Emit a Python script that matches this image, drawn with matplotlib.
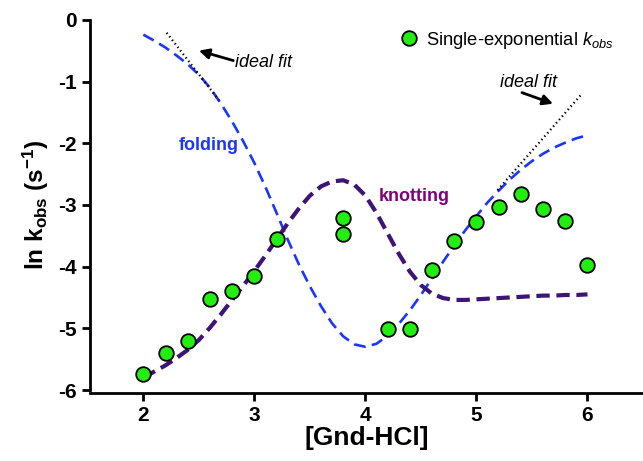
import matplotlib
matplotlib.use("Agg")
import matplotlib.pyplot as plt

plt.rcParams['font.family'] = ['Liberation Sans', 'DejaVu Sans']
plt.rcParams['mathtext.fontset'] = 'custom'
plt.rcParams['mathtext.rm'] = 'Liberation Sans'
plt.rcParams['mathtext.it'] = 'Liberation Sans:italic'
plt.rcParams['mathtext.bf'] = 'Liberation Sans:bold'
plt.rcParams['axes.unicode_minus'] = False

# measured data
gnd = [2.0, 2.2, 2.4, 2.6, 2.8, 3.0, 3.2, 3.8, 3.8, 4.2, 4.4, 4.6, 4.8, 5.0, 5.2, 5.4, 5.6, 5.8, 6.0]
ln_kobs = [-5.74, -5.40, -5.21, -4.53, -4.39, -4.15, -3.56, -3.21, -3.47, -5.01, -5.01,
           -4.06, -3.58, -3.28, -3.04, -2.83, -3.07, -3.26, -3.97]

# fitted curves
fit_x = [2.0, 2.1, 2.2, 2.3, 2.4, 2.5, 2.6, 2.7, 2.8, 2.9, 3.0, 3.1, 3.2, 3.3, 3.4, 3.5, 3.6, 3.7,
         3.8, 3.9, 4.0, 4.1, 4.2, 4.3, 4.4, 4.5, 4.6, 4.7, 4.8, 4.9, 5.0, 5.1, 5.2, 5.3, 5.4, 5.5,
         5.6, 5.7, 5.8, 5.9, 6.0]
folding = [-0.24, -0.34, -0.45, -0.58, -0.72, -0.89, -1.10, -1.36, -1.65, -1.97, -2.32, -2.71,
           -3.13, -3.56, -3.96, -4.32, -4.64, -4.92, -5.13, -5.26, -5.30, -5.25, -5.12, -4.93,
           -4.71, -4.46, -4.19, -3.92, -3.66, -3.41, -3.18, -2.96, -2.77, -2.59, -2.43, -2.29,
           -2.17, -2.07, -1.99, -1.92, -1.87]
knotting = [-5.80, -5.70, -5.60, -5.48, -5.35, -5.19, -4.99, -4.77, -4.54, -4.31, -4.07, -3.82,
            -3.56, -3.30, -3.06, -2.85, -2.70, -2.62, -2.60, -2.67, -2.85, -3.13, -3.46, -3.79,
            -4.08, -4.30, -4.44, -4.51, -4.54, -4.54, -4.53, -4.52, -4.51, -4.50, -4.49, -4.48,
            -4.47, -4.47, -4.46, -4.46, -4.45]

ideal_left_x = [2.21, 2.68]
ideal_left_y = [-0.21, -1.30]
ideal_right_x = [5.19, 5.94]
ideal_right_y = [-2.76, -1.22]

xticks = [2, 3, 4, 5, 6]
yticks = [0, -1, -2, -3, -4, -5, -6]

fig = plt.figure(figsize=(6.43, 4.61), dpi=100)
ax = fig.add_axes([0.14, 0.154, 0.86, 0.803])

ax.plot(fit_x, folding, color='#1a35ff', lw=1.9, dashes=(4.5, 2.4), zorder=2)
ax.plot(fit_x, knotting, color='#3d1478', lw=3.0, dashes=(3.2, 1.6), zorder=2)
ax.plot(ideal_left_x, ideal_left_y, color='black', lw=1.6, linestyle=(0, (0.6, 1.4)), zorder=3)
ax.plot(ideal_right_x, ideal_right_y, color='black', lw=1.6, linestyle=(0, (0.6, 1.4)), zorder=3)
ax.plot(gnd, ln_kobs, linestyle='none', marker='o', markersize=10.5, markerfacecolor='#22ee11',
        markeredgecolor='black', markeredgewidth=1.3, zorder=4, label=r'Single-exponential $\mathit{k_{obs}}$')

arrow = dict(arrowstyle='-|>', color='black', lw=2.0, mutation_scale=15, shrinkA=0, shrinkB=0)
ax.annotate('', xy=(2.50, -0.50), xytext=(2.81, -0.66), arrowprops=arrow)
ax.annotate('', xy=(5.69, -1.36), xytext=(5.41, -1.18), arrowprops=arrow)
ax.text(2.83, -0.69, 'ideal fit', fontsize=13, style='italic', va='center', ha='left')
ax.text(5.47, -1.02, 'ideal fit', fontsize=13, style='italic', va='center', ha='center')
ax.text(2.59, -2.03, 'folding', color='#1a35ff', fontsize=13, fontweight='bold', ha='center', va='center')
ax.text(4.44, -2.87, 'knotting', color='#800080', fontsize=13, fontweight='bold', ha='center', va='center')

leg = ax.legend(loc='center left', bbox_to_anchor=(0.54, 0.945), frameon=False, fontsize=13.2,
                handletextpad=0.25, handlelength=1.4, borderaxespad=0)

ax.set_xlim(1.52, 6.5)
ax.set_ylim(-6, 0)
ax.set_xticks(xticks)
ax.set_yticks(yticks)
for s in ['top', 'right']:
    ax.spines[s].set_visible(False)
for s in ['left', 'bottom']:
    ax.spines[s].set_linewidth(2.0)
ax.spines['bottom'].set_position(('outward', 2))
ax.tick_params(width=2.0, length=6, labelsize=15)
for lab in ax.get_xticklabels() + ax.get_yticklabels():
    lab.set_fontweight('bold')
ax.set_xlabel('[Gnd-HCl]', fontsize=19, fontweight='bold', labelpad=1)
ax.set_ylabel(r'ln k$_\mathbf{obs}$ (s$^\mathbf{-1}$)', fontsize=17.5, fontweight='bold', labelpad=5)

fig.savefig('out.png', dpi=100)
